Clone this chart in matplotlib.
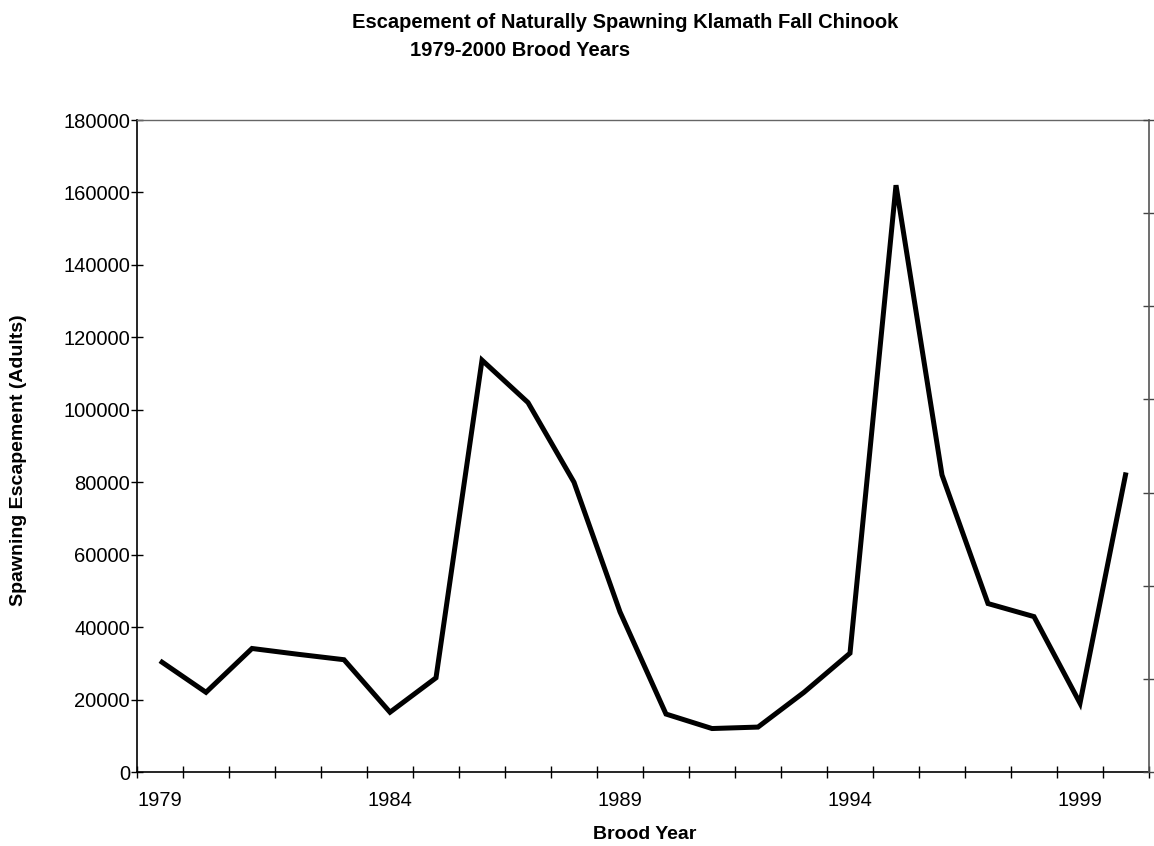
import matplotlib
matplotlib.use("Agg")
import matplotlib.pyplot as plt
import numpy as np

plt.rcParams['font.family'] = ['Liberation Sans', 'DejaVu Sans']

years = [1979, 1980, 1981, 1982, 1983, 1984, 1985, 1986, 1987, 1988, 1989,
         1990, 1991, 1992, 1993, 1994, 1995, 1996, 1997, 1998, 1999, 2000]
escapement = [30700, 22000, 34100, 32500, 31000, 16500, 26000, 113700, 102000, 80000, 44200,
              16000, 12000, 12400, 22000, 32800, 162000, 82000, 46500, 42900, 19000, 82700]
label_years = [1979, 1984, 1989, 1994, 1999]
y_ticks = [0, 20000, 40000, 60000, 80000, 100000, 120000, 140000, 160000, 180000]

W, H = 1154, 846
fig = plt.figure(figsize=(W / 100, H / 100), dpi=100)
left, right, top, bottom = 137, 1149, 120, 772
ax = fig.add_axes([left / W, 1 - bottom / H, (right - left) / W, (bottom - top) / H])

x = np.arange(len(years))
ax.plot(x, escapement, color='black', lw=3.6, solid_joinstyle='miter', solid_capstyle='butt')

ax.set_xlim(-0.5, len(years) - 0.5)
ax.set_ylim(0, 180000)
ax.set_yticks(y_ticks)
ax.set_yticklabels([str(v) for v in y_ticks], fontsize=14.5)

ax.set_xticks(np.arange(-0.5, len(years), 1.0))
ax.set_xticklabels([])
pos = [years.index(yv) for yv in label_years]
ax.set_xticks(pos, minor=True)
ax.set_xticklabels([str(v) for v in label_years], minor=True, fontsize=14.5)
ax.tick_params(axis='x', which='minor', length=0, pad=14)
ax.tick_params(axis='x', which='major', direction='inout', length=9, width=1)
ax.tick_params(axis='y', which='major', direction='inout', length=8, width=1, pad=1)

for s in ['left', 'bottom']:
    ax.spines[s].set_color('black')
    ax.spines[s].set_linewidth(1.2)
ax.spines['top'].set_color('#666666')
ax.spines['top'].set_linewidth(1)
ax.spines['right'].set_visible(False)

ax2 = ax.twinx()
ax2.set_ylim(0, 7)
ax2.set_yticks(np.arange(0, 8))
ax2.set_yticklabels([])
ax2.tick_params(axis='y', direction='inout', length=8, width=1, color='#444444')
ax2.spines['right'].set_color('#555555')
ax2.spines['right'].set_linewidth(1.2)
for s in ['left', 'top', 'bottom']:
    ax2.spines[s].set_visible(False)

fig.text(625 / W, 1 - 22 / H, 'Escapement of Naturally Spawning Klamath Fall Chinook',
         ha='center', va='center', fontsize=14.5, fontweight='bold')
fig.text(410 / W, 1 - 50 / H, '1979-2000 Brood Years',
         ha='left', va='center', fontsize=14.5, fontweight='bold')
fig.text(645 / W, 1 - 834 / H, 'Brood Year', ha='center', va='center',
         fontsize=14, fontweight='bold')
fig.text(19 / W, 1 - 460 / H, 'Spawning Escapement (Adults)', ha='center', va='center',
         rotation=90, fontsize=14, fontweight='bold')

fig.savefig('out.png', dpi=100)
